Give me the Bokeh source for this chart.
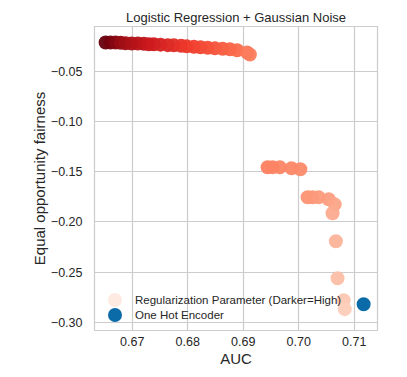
from bokeh.plotting import figure
from bokeh.models import Range1d, Legend, LegendItem, ColumnDataSource, FixedTicker
from bokeh.transform import linear_cmap
from bokeh.palettes import Reds256
from bokeh.embed import file_html
from bokeh.resources import INLINE

# Logistic regression + Gaussian noise, one point per regularization setting
auc = [0.6652, 0.6661, 0.6670, 0.6679, 0.6688, 0.6699, 0.6710, 0.6721, 0.6730, 0.6739,
       0.6751, 0.6764, 0.6775, 0.6788, 0.6798, 0.6811, 0.6823, 0.6836, 0.6849, 0.6863,
       0.6876, 0.6889, 0.6907, 0.6912,
       0.6944, 0.6953, 0.6966, 0.6987, 0.7003,
       0.7016, 0.7025, 0.7036, 0.7054, 0.7065, 0.7061, 0.7067, 0.7070, 0.7081, 0.7083]
fairness = [-0.0211, -0.0211, -0.0212, -0.0215, -0.0219, -0.0221, -0.0222, -0.0224, -0.0229, -0.0230,
            -0.0233, -0.0238, -0.0240, -0.0245, -0.0250, -0.0255, -0.0259, -0.0265, -0.0269, -0.0274,
            -0.0279, -0.0289, -0.0311, -0.0331,
            -0.1456, -0.1456, -0.1456, -0.1466, -0.1476,
            -0.1755, -0.1755, -0.1755, -0.1775, -0.1825, -0.1914, -0.2193, -0.2562, -0.2781, -0.2870]
# regularization strength (relative, darker = higher)
reg_strength = [1.00, 0.97, 0.94, 0.91, 0.88, 0.85, 0.82, 0.79, 0.76, 0.74,
                0.72, 0.70, 0.68, 0.66, 0.64, 0.62, 0.60, 0.58, 0.56, 0.54,
                0.52, 0.50, 0.46, 0.44,
                0.43, 0.42, 0.42, 0.41, 0.40,
                0.37, 0.36, 0.35, 0.34, 0.32, 0.30, 0.27, 0.24, 0.21, 0.19]

ohe_auc = [0.7117]
ohe_fairness = [-0.2821]

legend_labels = ["Regularization Parameter (Darker=High)", "One Hot Encoder"]
x_ticks = [0.67, 0.68, 0.69, 0.70, 0.71]
y_ticks = [-0.05, -0.10, -0.15, -0.20, -0.25, -0.30]

FONT = "Liberation Sans"

p = figure(output_backend="svg", toolbar_location=None,
           frame_width=283, frame_height=304,
           min_border_left=94, min_border_right=8, min_border_top=26, min_border_bottom=30,
           x_range=Range1d(0.6632, 0.7142), y_range=Range1d(-0.3083, -0.0052),
           title="Logistic Regression + Gaussian Noise")

p.title.align = "center"
p.title.text_font = FONT
p.title.text_font_size = "13px"
p.title.text_font_style = "normal"
p.title.text_color = "#262626"
p.title.standoff = 3

src = ColumnDataSource(dict(x=auc, y=fairness, r=reg_strength))
pal = list(Reds256)[::-1]
cmap = linear_cmap("r", pal, low=0.0, high=1.0)
r1 = p.scatter("x", "y", source=src, size=14, fill_color=cmap, line_color=None, fill_alpha=0.95)
r2 = p.scatter(ohe_auc, ohe_fairness, size=14, fill_color="#0b6aa8", line_color=None)

# legend proxy for the lightest colour
r_leg = p.scatter([0.5], [0.5], size=14, fill_color="#feeae0", line_color=None)

leg_kw = dict(border_line_alpha=0, background_fill_alpha=0,
              label_text_font=FONT, label_text_font_size="11.5px", label_text_color="#262626",
              glyph_width=35, glyph_height=35, label_height=15, spacing=0, padding=0, margin=0,
              label_standoff=3)
legend1 = Legend(items=[LegendItem(label=legend_labels[0], renderers=[r_leg])],
                 location=(3, 13), **leg_kw)
legend2 = Legend(items=[LegendItem(label=legend_labels[1], renderers=[r2])],
                 location=(3, -2), **leg_kw)
p.add_layout(legend1)
p.add_layout(legend2)

for ax in (p.xaxis[0], p.yaxis[0]):
    ax.major_tick_line_color = None
    ax.minor_tick_line_color = None
    ax.axis_line_color = None
    ax.major_label_text_font = FONT
    ax.major_label_text_font_size = "12.5px"
    ax.major_label_text_color = "#262626"
    ax.axis_label_text_font = FONT
    ax.axis_label_text_font_size = "15px"
    ax.axis_label_text_font_style = "normal"
    ax.axis_label_text_color = "#262626"

p.xaxis.ticker = FixedTicker(ticks=x_ticks)
p.yaxis.ticker = FixedTicker(ticks=y_ticks)
p.xaxis.major_label_overrides = {t: f"{t:.2f}" for t in x_ticks}
p.yaxis.major_label_overrides = {t: f"\u2212{abs(t):.2f}" for t in y_ticks}
p.xaxis.axis_label = "AUC"
p.yaxis.axis_label = "Equal opportunity fairness"
p.xaxis.major_label_standoff = 0
p.yaxis.major_label_standoff = 6
p.xaxis.axis_label_standoff = 1
p.yaxis.axis_label_standoff = 0

p.xgrid.grid_line_color = "#cccccc"
p.ygrid.grid_line_color = "#cccccc"
p.xgrid.grid_line_width = 1.2
p.ygrid.grid_line_width = 1.2
p.outline_line_color = "#cccccc"
p.outline_line_width = 1.2
p.background_fill_color = "white"
p.border_fill_color = "white"

open("out.html", "w").write(file_html(p, INLINE))
